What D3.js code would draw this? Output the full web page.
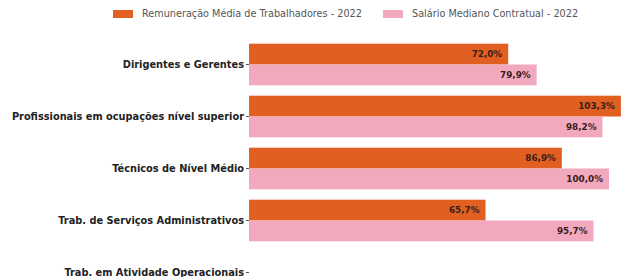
<!DOCTYPE html>
<html>
<head>
<meta charset="utf-8">
<script src="https://cdn.jsdelivr.net/npm/d3@7"></script>
<style>
  body { margin: 0; background: #fff; }
  svg { display: block; font-family: "DejaVu Sans", sans-serif; }
</style>
</head>
<body>
<div id="grafico"></div>
<script>
// categorias e series
var categorias = [
  "Dirigentes e Gerentes",
  "Profissionais em ocupações nível superior",
  "Técnicos de Nível Médio",
  "Trab. de Serviços Administrativos",
  "Trab. em Atividade Operacionais"
];
var series = ["Remuneração Média de Trabalhadores - 2022", "Salário Mediano Contratual - 2022"];
var remuneracao = [72.0, 103.3, 86.9, 65.7, null];
var salarioMediano = [79.9, 98.2, 100.0, 95.7, null];
var cores = ["#e15f20", "#f2a9bd"];

var width = 621, height = 277;

var svg = d3.select("#grafico").append("svg")
    .attr("width", width)
    .attr("height", height);

var x = d3.scaleLinear().domain([0, 100]).range([249, 609]);

var y = d3.scaleBand()
    .domain(categorias)
    .range([38.5, 298.5])
    .paddingInner(0.2)
    .paddingOuter(0.1);

var ySub = d3.scaleBand().domain(series).range([0, y.bandwidth()]);

var dados = [];
categorias.forEach(function(c, i) {
  dados.push({ cat: c, serie: series[0], valor: remuneracao[i], cor: cores[0] });
  dados.push({ cat: c, serie: series[1], valor: salarioMediano[i], cor: cores[1] });
});
var comValor = dados.filter(function(d) { return d.valor != null; });

// barras
svg.selectAll(".barra")
  .data(comValor)
  .enter()
  .append("rect")
    .attr("class", "barra")
    .attr("x", x(0))
    .attr("y", d => y(d.cat) + ySub(d.serie))
    .attr("width", d => x(d.valor) - x(0))
    .attr("height", ySub.bandwidth())
    .attr("fill", d => d.cor);

// rotulos de valor
svg.selectAll(".rotulo")
  .data(comValor)
  .enter()
  .append("text")
    .attr("class", "rotulo")
    .attr("x", d => x(d.valor) - 6)
    .attr("y", d => y(d.cat) + ySub(d.serie) + ySub.bandwidth() / 2)
    .attr("dy", "0.35em")
    .attr("text-anchor", "end")
    .attr("font-size", "8.8px")
    .attr("font-weight", "bold")
    .attr("fill", "#3a1d1d")
    .text(d => d.valor.toFixed(1).replace(".", ",") + "%");

// eixo y
var eixo = svg.append("g")
    .attr("transform", "translate(" + x(0) + ",0)")
    .call(d3.axisLeft(y).tickSize(3).tickPadding(2));
eixo.attr("font-family", null);
eixo.select(".domain").remove();
eixo.selectAll(".tick line").attr("stroke", "#555");
eixo.selectAll(".tick text")
    .attr("font-size", "9.8px")
    .attr("font-weight", "bold")
    .attr("fill", "#222");

// legenda
var legenda = svg.append("g");
var posLeg = [113, 383];
series.forEach(function(s, i) {
  legenda.append("rect")
    .attr("x", posLeg[i]).attr("y", 10)
    .attr("width", 20).attr("height", 8)
    .attr("fill", cores[i]);
  legenda.append("text")
    .attr("x", posLeg[i] + 29).attr("y", 14)
    .attr("dy", "0.35em")
    .attr("font-size", "9.7px")
    .attr("fill", "#555")
    .text(s);
});
</script>
</body>
</html>
